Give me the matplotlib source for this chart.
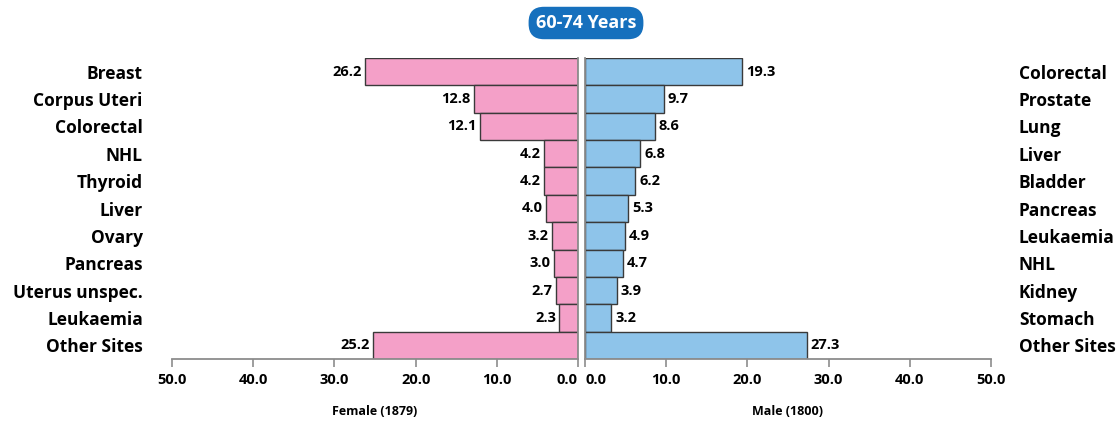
import matplotlib.pyplot as plt

female_sites = ['Breast', 'Corpus Uteri', 'Colorectal', 'NHL', 'Thyroid', 'Liver',
                'Ovary', 'Pancreas', 'Uterus unspec.', 'Leukaemia', 'Other Sites']
female_vals = [26.2, 12.8, 12.1, 4.2, 4.2, 4.0, 3.2, 3.0, 2.7, 2.3, 25.2]

male_sites = ['Colorectal', 'Prostate', 'Lung', 'Liver', 'Bladder', 'Pancreas',
              'Leukaemia', 'NHL', 'Kidney', 'Stomach', 'Other Sites']
male_vals = [19.3, 9.7, 8.6, 6.8, 6.2, 5.3, 4.9, 4.7, 3.9, 3.2, 27.3]

ticks = [0, 10, 20, 30, 40, 50]
tick_labels = ['0.0', '10.0', '20.0', '30.0', '40.0', '50.0']

pink = '#F4A0C8'
blue = '#8EC4EA'
grey = '#8C8C8C'

plt.rcParams['font.family'] = ['Open Sans', 'DejaVu Sans']

fig = plt.figure(figsize=(11.18, 4.22), dpi=100)
ax1 = fig.add_axes([172 / 1118, 1 - 359 / 422, 406 / 1118, 301 / 422])
ax2 = fig.add_axes([585 / 1118, 1 - 359 / 422, 406 / 1118, 301 / 422])

pos = list(range(len(female_sites)))[::-1]

ax1.barh(pos, female_vals, height=1.0, color=pink, edgecolor='#3a3a3a', linewidth=1)
ax2.barh(pos, male_vals, height=1.0, color=blue, edgecolor='#3a3a3a', linewidth=1)

for ax in (ax1, ax2):
    ax.set_xlim(0, 50)
    ax.set_ylim(-0.5, 10.5)
    ax.set_xticks(ticks)
    ax.set_xticklabels(tick_labels, fontsize=10.5, fontweight='bold')
    ax.tick_params(axis='x', length=6, width=1.2, color=grey, pad=4)
    ax.tick_params(axis='y', length=0)
    ax.spines['top'].set_visible(False)
    ax.spines['bottom'].set_color(grey)
    ax.spines['bottom'].set_linewidth(1.3)

# zero labels pushed inward, away from the gap between the two panels
ax1.get_xticklabels()[0].set_horizontalalignment('right')
ax2.get_xticklabels()[0].set_horizontalalignment('left')

ax1.invert_xaxis()
ax1.spines['left'].set_visible(False)
ax1.spines['right'].set_color(grey)
ax1.spines['right'].set_linewidth(1.3)
ax2.spines['right'].set_visible(False)
ax2.spines['left'].set_color(grey)
ax2.spines['left'].set_linewidth(1.3)

ax1.set_yticks(pos)
ax1.set_yticklabels(female_sites, fontsize=12.5, fontweight='bold')
ax1.tick_params(axis='y', pad=21)

ax2.yaxis.tick_right()
ax2.set_yticks(pos)
ax2.set_yticklabels(male_sites, fontsize=12.5, fontweight='bold', ha='left')
ax2.tick_params(axis='y', pad=20)

for p, v in zip(pos, female_vals):
    ax1.text(v + 0.4, p, f'{v:.1f}', ha='right', va='center', fontsize=10.5, fontweight='bold')
for p, v in zip(pos, male_vals):
    ax2.text(v + 0.5, p, f'{v:.1f}', ha='left', va='center', fontsize=10.5, fontweight='bold')

ax1.set_xlabel('Female (1879)', fontsize=9, fontweight='bold', labelpad=13)
ax2.set_xlabel('Male (1800)', fontsize=9, fontweight='bold', labelpad=13)

fig.text(586 / 1118, 1 - 23 / 422, '60-74 Years', ha='center', va='center',
         fontsize=13, fontweight='bold', color='white',
         bbox=dict(boxstyle='round,pad=0.4,rounding_size=0.85', fc='#1670BD', ec='none'))

fig.savefig('out.png', dpi=100)
